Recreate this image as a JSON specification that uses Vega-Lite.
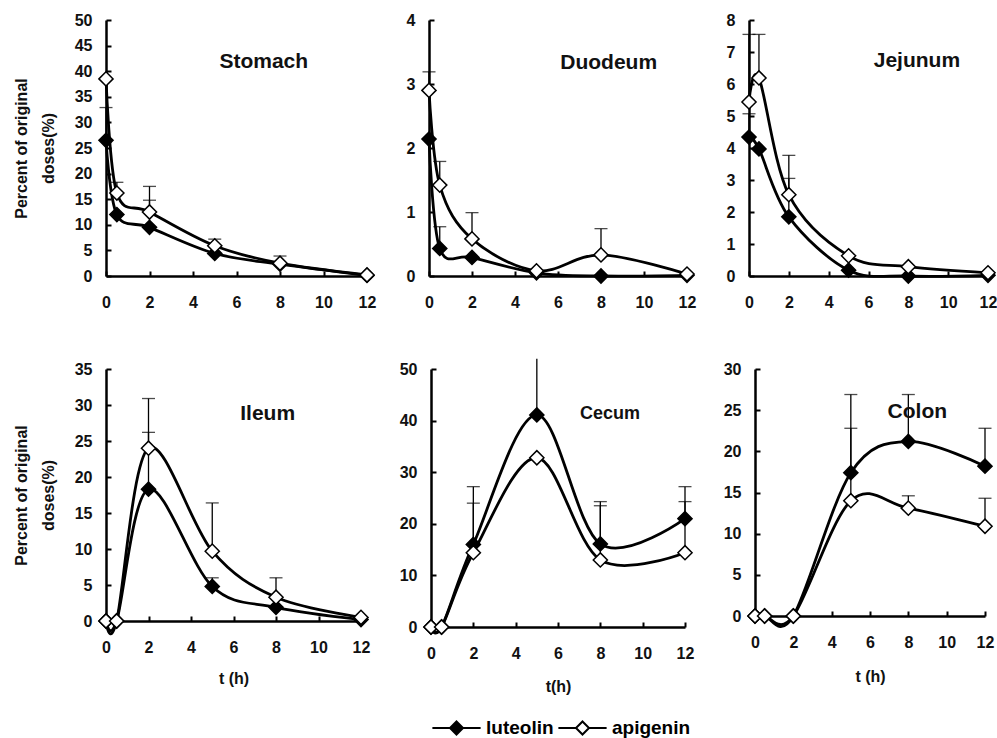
{
  "$schema": "https://vega.github.io/schema/vega-lite/v6.json",
  "padding": {"left": 13, "top": 12, "right": 0, "bottom": 2},
  "datasets": {
    "d": [
      {"organ": "Stomach", "compound": "luteolin", "t": 0, "v": 26.5, "up": 32.9},
      {"organ": "Stomach", "compound": "luteolin", "t": 0.5, "v": 12.0, "up": null},
      {"organ": "Stomach", "compound": "luteolin", "t": 2, "v": 9.5, "up": 14.8},
      {"organ": "Stomach", "compound": "luteolin", "t": 5, "v": 4.4, "up": null},
      {"organ": "Stomach", "compound": "luteolin", "t": 8, "v": 2.3, "up": null},
      {"organ": "Stomach", "compound": "luteolin", "t": 12, "v": 0.1, "up": null},
      {"organ": "Stomach", "compound": "apigenin", "t": 0, "v": 38.5, "up": null},
      {"organ": "Stomach", "compound": "apigenin", "t": 0.5, "v": 16.2, "up": 18.3},
      {"organ": "Stomach", "compound": "apigenin", "t": 2, "v": 12.5, "up": 17.5},
      {"organ": "Stomach", "compound": "apigenin", "t": 5, "v": 5.9, "up": 7.2},
      {"organ": "Stomach", "compound": "apigenin", "t": 8, "v": 2.5, "up": 3.9},
      {"organ": "Stomach", "compound": "apigenin", "t": 12, "v": 0.2, "up": null},

      {"organ": "Duodeum", "compound": "luteolin", "t": 0, "v": 2.14, "up": null},
      {"organ": "Duodeum", "compound": "luteolin", "t": 0.5, "v": 0.43, "up": 0.77},
      {"organ": "Duodeum", "compound": "luteolin", "t": 2, "v": 0.29, "up": null},
      {"organ": "Duodeum", "compound": "luteolin", "t": 5, "v": 0.05, "up": null},
      {"organ": "Duodeum", "compound": "luteolin", "t": 8, "v": 0.0, "up": null},
      {"organ": "Duodeum", "compound": "luteolin", "t": 12, "v": 0.01, "up": null},
      {"organ": "Duodeum", "compound": "apigenin", "t": 0, "v": 2.9, "up": 3.19},
      {"organ": "Duodeum", "compound": "apigenin", "t": 0.5, "v": 1.42, "up": 1.79},
      {"organ": "Duodeum", "compound": "apigenin", "t": 2, "v": 0.58, "up": 0.99},
      {"organ": "Duodeum", "compound": "apigenin", "t": 5, "v": 0.08, "up": null},
      {"organ": "Duodeum", "compound": "apigenin", "t": 8, "v": 0.33, "up": 0.74},
      {"organ": "Duodeum", "compound": "apigenin", "t": 12, "v": 0.03, "up": null},

      {"organ": "Jejunum", "compound": "luteolin", "t": 0, "v": 4.34, "up": 5.07},
      {"organ": "Jejunum", "compound": "luteolin", "t": 0.5, "v": 3.97, "up": null},
      {"organ": "Jejunum", "compound": "luteolin", "t": 2, "v": 1.85, "up": 3.05},
      {"organ": "Jejunum", "compound": "luteolin", "t": 5, "v": 0.18, "up": null},
      {"organ": "Jejunum", "compound": "luteolin", "t": 8, "v": 0.0, "up": null},
      {"organ": "Jejunum", "compound": "luteolin", "t": 12, "v": 0.02, "up": null},
      {"organ": "Jejunum", "compound": "apigenin", "t": 0, "v": 5.44, "up": 7.55},
      {"organ": "Jejunum", "compound": "apigenin", "t": 0.5, "v": 6.19, "up": 7.55},
      {"organ": "Jejunum", "compound": "apigenin", "t": 2, "v": 2.54, "up": 3.77},
      {"organ": "Jejunum", "compound": "apigenin", "t": 5, "v": 0.63, "up": null},
      {"organ": "Jejunum", "compound": "apigenin", "t": 8, "v": 0.29, "up": null},
      {"organ": "Jejunum", "compound": "apigenin", "t": 12, "v": 0.1, "up": null},

      {"organ": "Ileum", "compound": "luteolin", "t": 0, "v": 0, "up": null},
      {"organ": "Ileum", "compound": "luteolin", "t": 0.5, "v": 0, "up": null},
      {"organ": "Ileum", "compound": "luteolin", "t": 2, "v": 18.3, "up": 26.2},
      {"organ": "Ileum", "compound": "luteolin", "t": 5, "v": 4.8, "up": 6.0},
      {"organ": "Ileum", "compound": "luteolin", "t": 8, "v": 1.9, "up": null},
      {"organ": "Ileum", "compound": "luteolin", "t": 12, "v": 0.2, "up": null},
      {"organ": "Ileum", "compound": "apigenin", "t": 0, "v": 0, "up": null},
      {"organ": "Ileum", "compound": "apigenin", "t": 0.5, "v": 0, "up": null},
      {"organ": "Ileum", "compound": "apigenin", "t": 2, "v": 24.0, "up": 30.9},
      {"organ": "Ileum", "compound": "apigenin", "t": 5, "v": 9.7, "up": 16.4},
      {"organ": "Ileum", "compound": "apigenin", "t": 8, "v": 3.3, "up": 6.0},
      {"organ": "Ileum", "compound": "apigenin", "t": 12, "v": 0.5, "up": null},

      {"organ": "Cecum", "compound": "luteolin", "t": 0, "v": 0, "up": null},
      {"organ": "Cecum", "compound": "luteolin", "t": 0.5, "v": 0, "up": null},
      {"organ": "Cecum", "compound": "luteolin", "t": 2, "v": 16.0, "up": 27.2},
      {"organ": "Cecum", "compound": "luteolin", "t": 5, "v": 41.1, "up": 52.0},
      {"organ": "Cecum", "compound": "luteolin", "t": 8, "v": 16.1, "up": 24.3},
      {"organ": "Cecum", "compound": "luteolin", "t": 12, "v": 21.0, "up": 27.2},
      {"organ": "Cecum", "compound": "apigenin", "t": 0, "v": 0, "up": null},
      {"organ": "Cecum", "compound": "apigenin", "t": 0.5, "v": 0, "up": null},
      {"organ": "Cecum", "compound": "apigenin", "t": 2, "v": 14.4, "up": 24.0},
      {"organ": "Cecum", "compound": "apigenin", "t": 5, "v": 32.8, "up": null},
      {"organ": "Cecum", "compound": "apigenin", "t": 8, "v": 13.0, "up": 23.5},
      {"organ": "Cecum", "compound": "apigenin", "t": 12, "v": 14.4, "up": 24.3},

      {"organ": "Colon", "compound": "luteolin", "t": 0, "v": 0, "up": null},
      {"organ": "Colon", "compound": "luteolin", "t": 0.5, "v": 0, "up": null},
      {"organ": "Colon", "compound": "luteolin", "t": 2, "v": 0, "up": null},
      {"organ": "Colon", "compound": "luteolin", "t": 5, "v": 17.4, "up": 26.9},
      {"organ": "Colon", "compound": "luteolin", "t": 8, "v": 21.2, "up": 26.9},
      {"organ": "Colon", "compound": "luteolin", "t": 12, "v": 18.2, "up": 22.8},
      {"organ": "Colon", "compound": "apigenin", "t": 0, "v": 0, "up": null},
      {"organ": "Colon", "compound": "apigenin", "t": 0.5, "v": 0, "up": null},
      {"organ": "Colon", "compound": "apigenin", "t": 2, "v": 0, "up": null},
      {"organ": "Colon", "compound": "apigenin", "t": 5, "v": 14.0, "up": 22.8},
      {"organ": "Colon", "compound": "apigenin", "t": 8, "v": 13.1, "up": 14.6},
      {"organ": "Colon", "compound": "apigenin", "t": 12, "v": 10.9, "up": 14.3}
    ]
  },
  "data": {"name": "d"},
  "spacing": 48,
  "vconcat": [
    {
      "spacing": 62,
      "bounds": "flush",
      "hconcat": [
        {
          "width": 261, "height": 256,
          "title": {"text": "Stomach", "dx": -69, "offset": -60},
          "transform": [{"filter": "datum.organ === 'Stomach'"}],
          "encoding": {
            "x": {"field": "t", "type": "quantitative", "scale": {"domain": [0, 12], "nice": false}, "axis": {"values": [0, 2, 4, 6, 8, 10, 12], "title": null}},
            "y": {"field": "v", "type": "quantitative", "scale": {"domain": [0, 50], "nice": false}, "axis": {"values": [0, 5, 10, 15, 20, 25, 30, 35, 40, 45, 50], "title": ["Percent of  original", "doses(%)"], "titlePadding": 18, "titleLineHeight": 27}}
          },
          "layer": [
            {"mark": {"type": "line", "interpolate": "cardinal", "color": "black", "strokeWidth": 2.8}, "encoding": {"detail": {"field": "compound"}}},
            {"transform": [{"filter": {"field": "up", "valid": true}}], "mark": {"type": "rule", "color": "black", "strokeWidth": 1.3}, "encoding": {"y2": {"field": "up"}}},
            {"transform": [{"filter": {"field": "up", "valid": true}}], "mark": {"type": "tick", "orient": "horizontal", "color": "black", "size": 13, "thickness": 1.3}, "encoding": {"y": {"field": "up", "type": "quantitative"}}},
            {"mark": {"type": "point", "shape": "diamond", "filled": true, "size": 200, "stroke": "black", "strokeWidth": 1.5, "opacity": 1},
             "encoding": {"fill": {"field": "compound", "type": "nominal", "scale": {"domain": ["luteolin", "apigenin"], "range": ["black", "white"]},
               "legend": {"title": null, "orient": "none", "legendX": 341, "legendY": 698, "direction": "horizontal", "symbolType": "M-3.7,0L-1,0M1,0L3.7,0M0,-1L1,0L0,1L-1,0Z", "symbolSize": 170, "symbolStrokeColor": "black", "symbolStrokeWidth": 2, "labelFontSize": 19, "labelFontWeight": "bold", "labelColor": "black", "labelOffset": 20, "columnPadding": 0}}}}
          ]
        },
        {
          "width": 258, "height": 256,
          "title": {"text": "Duodeum", "dx": -40, "offset": -61},
          "transform": [{"filter": "datum.organ === 'Duodeum'"}],
          "encoding": {
            "x": {"field": "t", "type": "quantitative", "scale": {"domain": [0, 12], "nice": false}, "axis": {"values": [0, 2, 4, 6, 8, 10, 12], "title": null}},
            "y": {"field": "v", "type": "quantitative", "scale": {"domain": [0, 4], "nice": false}, "axis": {"values": [0, 1, 2, 3, 4], "title": null}}
          },
          "layer": [
            {"mark": {"type": "line", "interpolate": "cardinal", "color": "black", "strokeWidth": 2.8}, "encoding": {"detail": {"field": "compound"}}},
            {"transform": [{"filter": {"field": "up", "valid": true}}], "mark": {"type": "rule", "color": "black", "strokeWidth": 1.3}, "encoding": {"y2": {"field": "up"}}},
            {"transform": [{"filter": {"field": "up", "valid": true}}], "mark": {"type": "tick", "orient": "horizontal", "color": "black", "size": 13, "thickness": 1.3}, "encoding": {"y": {"field": "up", "type": "quantitative"}}},
            {"mark": {"type": "point", "shape": "diamond", "filled": true, "size": 200, "stroke": "black", "strokeWidth": 1.5, "opacity": 1},
             "encoding": {"fill": {"field": "compound", "type": "nominal", "scale": {"domain": ["luteolin", "apigenin"], "range": ["black", "white"]}}}}
          ]
        },
        {
          "width": 239, "height": 256,
          "title": {"text": "Jejunum", "dx": -38, "offset": -59},
          "transform": [{"filter": "datum.organ === 'Jejunum'"}],
          "encoding": {
            "x": {"field": "t", "type": "quantitative", "scale": {"domain": [0, 12], "nice": false}, "axis": {"values": [0, 2, 4, 6, 8, 10, 12], "title": null}},
            "y": {"field": "v", "type": "quantitative", "scale": {"domain": [0, 8], "nice": false}, "axis": {"values": [0, 1, 2, 3, 4, 5, 6, 7, 8], "title": null}}
          },
          "layer": [
            {"mark": {"type": "line", "interpolate": "cardinal", "color": "black", "strokeWidth": 2.8}, "encoding": {"detail": {"field": "compound"}}},
            {"transform": [{"filter": {"field": "up", "valid": true}}], "mark": {"type": "rule", "color": "black", "strokeWidth": 1.3}, "encoding": {"y2": {"field": "up"}}},
            {"transform": [{"filter": {"field": "up", "valid": true}}], "mark": {"type": "tick", "orient": "horizontal", "color": "black", "size": 13, "thickness": 1.3}, "encoding": {"y": {"field": "up", "type": "quantitative"}}},
            {"mark": {"type": "point", "shape": "diamond", "filled": true, "size": 200, "stroke": "black", "strokeWidth": 1.5, "opacity": 1},
             "encoding": {"fill": {"field": "compound", "type": "nominal", "scale": {"domain": ["luteolin", "apigenin"], "range": ["black", "white"]}}}}
          ]
        }
      ]
    },
    {
      "spacing": 70,
      "bounds": "flush",
      "hconcat": [
        {
          "width": 255, "height": 252,
          "title": {"text": "Ileum", "dx": -76, "offset": -63},
          "transform": [{"filter": "datum.organ === 'Ileum'"}],
          "encoding": {
            "x": {"field": "t", "type": "quantitative", "scale": {"domain": [0, 12], "nice": false}, "axis": {"values": [0, 2, 4, 6, 8, 10, 12], "title": "t (h)", "titlePadding": 15}},
            "y": {"field": "v", "type": "quantitative", "scale": {"domain": [0, 35], "nice": false}, "axis": {"values": [0, 5, 10, 15, 20, 25, 30, 35], "title": ["Percent of original", "doses(%)"], "titlePadding": 18, "titleLineHeight": 27}}
          },
          "layer": [
            {"mark": {"type": "line", "interpolate": "cardinal", "color": "black", "strokeWidth": 2.8}, "encoding": {"detail": {"field": "compound"}}},
            {"transform": [{"filter": {"field": "up", "valid": true}}], "mark": {"type": "rule", "color": "black", "strokeWidth": 1.3}, "encoding": {"y2": {"field": "up"}}},
            {"transform": [{"filter": {"field": "up", "valid": true}}], "mark": {"type": "tick", "orient": "horizontal", "color": "black", "size": 13, "thickness": 1.3}, "encoding": {"y": {"field": "up", "type": "quantitative"}}},
            {"mark": {"type": "point", "shape": "diamond", "filled": true, "size": 200, "stroke": "black", "strokeWidth": 1.5, "opacity": 1},
             "encoding": {"fill": {"field": "compound", "type": "nominal", "scale": {"domain": ["luteolin", "apigenin"], "range": ["black", "white"]}}}}
          ]
        },
        {
          "width": 254, "height": 258,
          "title": {"text": "Cecum", "dx": -55, "offset": -65, "fontSize": 18},
          "transform": [{"filter": "datum.organ === 'Cecum'"}],
          "encoding": {
            "x": {"field": "t", "type": "quantitative", "scale": {"domain": [0, 12], "nice": false}, "axis": {"values": [0, 2, 4, 6, 8, 10, 12], "title": "t(h)", "titlePadding": 17}},
            "y": {"field": "v", "type": "quantitative", "scale": {"domain": [0, 50], "nice": false}, "axis": {"values": [0, 10, 20, 30, 40, 50], "title": null}}
          },
          "layer": [
            {"mark": {"type": "line", "interpolate": "cardinal", "color": "black", "strokeWidth": 2.8}, "encoding": {"detail": {"field": "compound"}}},
            {"transform": [{"filter": {"field": "up", "valid": true}}], "mark": {"type": "rule", "color": "black", "strokeWidth": 1.3}, "encoding": {"y2": {"field": "up"}}},
            {"transform": [{"filter": {"field": "up", "valid": true}}, {"filter": "datum.up <= 50"}], "mark": {"type": "tick", "orient": "horizontal", "color": "black", "size": 13, "thickness": 1.3}, "encoding": {"y": {"field": "up", "type": "quantitative"}}},
            {"mark": {"type": "point", "shape": "diamond", "filled": true, "size": 200, "stroke": "black", "strokeWidth": 1.5, "opacity": 1},
             "encoding": {"fill": {"field": "compound", "type": "nominal", "scale": {"domain": ["luteolin", "apigenin"], "range": ["black", "white"]}}}}
          ]
        },
        {
          "width": 230, "height": 247,
          "title": {"text": "Colon", "dx": -48, "offset": -61},
          "transform": [{"filter": "datum.organ === 'Colon'"}],
          "encoding": {
            "x": {"field": "t", "type": "quantitative", "scale": {"domain": [0, 12], "nice": false}, "axis": {"values": [0, 2, 4, 6, 8, 10, 12], "title": "t (h)", "titlePadding": 18}},
            "y": {"field": "v", "type": "quantitative", "scale": {"domain": [0, 30], "nice": false}, "axis": {"values": [0, 5, 10, 15, 20, 25, 30], "title": null}}
          },
          "layer": [
            {"mark": {"type": "line", "interpolate": "cardinal", "color": "black", "strokeWidth": 2.8}, "encoding": {"detail": {"field": "compound"}}},
            {"transform": [{"filter": {"field": "up", "valid": true}}], "mark": {"type": "rule", "color": "black", "strokeWidth": 1.3}, "encoding": {"y2": {"field": "up"}}},
            {"transform": [{"filter": {"field": "up", "valid": true}}], "mark": {"type": "tick", "orient": "horizontal", "color": "black", "size": 13, "thickness": 1.3}, "encoding": {"y": {"field": "up", "type": "quantitative"}}},
            {"mark": {"type": "point", "shape": "diamond", "filled": true, "size": 200, "stroke": "black", "strokeWidth": 1.5, "opacity": 1},
             "encoding": {"fill": {"field": "compound", "type": "nominal", "scale": {"domain": ["luteolin", "apigenin"], "range": ["black", "white"]}}}}
          ]
        }
      ]
    }
  ],
  "config": {
    "font": "Liberation Sans",
    "background": "white",
    "view": {"stroke": null},
    "axis": {
      "grid": false,
      "domainColor": "black", "domainWidth": 2.5,
      "tickColor": "black", "tickWidth": 2, "tickSize": -5,
      "labelFont": "Liberation Sans", "labelFontWeight": "bold", "labelFontSize": 16, "labelColor": "#111", "labelFlush": false, "labelOverlap": false,
      "titleFont": "Liberation Sans", "titleFontWeight": "bold", "titleFontSize": 16, "titleColor": "#111"
    },
    "axisX": {"labelPadding": 23},
    "axisY": {"labelPadding": 19},
    "title": {"anchor": "end", "baseline": "alphabetic", "font": "Liberation Sans", "fontWeight": "bold", "fontSize": 21, "color": "#111"},
    "legend": {"labelFont": "Liberation Sans"}
  }
}
